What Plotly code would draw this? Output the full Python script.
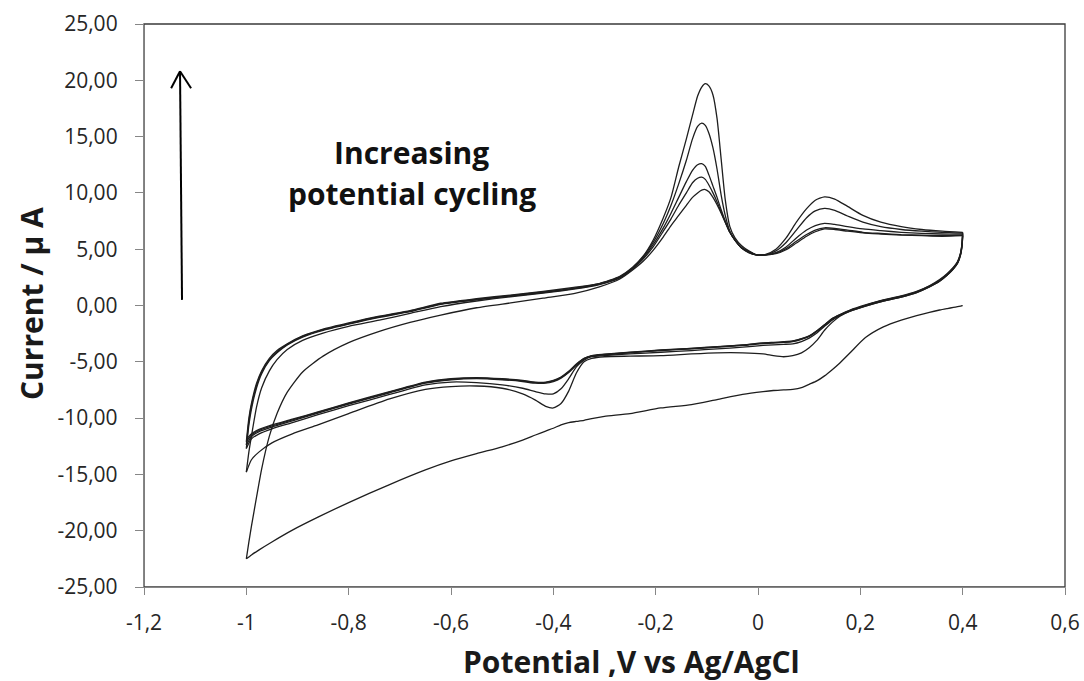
import plotly.graph_objects as go

# ---- potential grids (V vs Ag/AgCl) ----
ANODIC_X = [-1.0, -0.995, -0.99, -0.98, -0.97, -0.955, -0.94, -0.92, -0.89, -0.85,
            -0.80, -0.74, -0.68, -0.62, -0.55, -0.48, -0.42, -0.36, -0.31, -0.27,
            -0.245, -0.225, -0.205, -0.185, -0.17, -0.155, -0.14, -0.128, -0.118, -0.11,
            -0.103, -0.096, -0.088, -0.08, -0.072, -0.064, -0.055, -0.045, -0.032, -0.018,
            -0.003, 0.015, 0.035, 0.055, 0.075, 0.095, 0.112, 0.13, 0.15, 0.175,
            0.205, 0.24, 0.28, 0.32, 0.36, 0.40]

CATHODIC_X = [0.40, 0.399, 0.396, 0.39, 0.382, 0.37, 0.355, 0.335, 0.31, 0.28,
              0.245, 0.21, 0.18, 0.16, 0.145, 0.13, 0.115, 0.10, 0.085, 0.068,
              0.05, 0.03, 0.01, -0.03, -0.08, -0.13, -0.19, -0.25, -0.30, -0.325,
              -0.34, -0.355, -0.37, -0.385, -0.40, -0.415, -0.435, -0.46, -0.50, -0.55,
              -0.60, -0.65, -0.72, -0.80, -0.86, -0.91, -0.95, -0.975, -0.99, -1.0]

# ---- current (uA), anodic sweeps ----
anodic_1 = [-22.5, -21.0, -19.6, -17.0, -14.5, -11.6, -9.6, -7.7, -5.9, -4.5,
            -3.3, -2.3, -1.5, -0.85, -0.2, 0.25, 0.65, 1.05, 1.65, 2.35,
            3.15, 3.9, 4.9, 6.1, 7.1, 8.0, 8.9, 9.6, 10.0, 10.25,
            10.3, 10.1, 9.6, 8.95, 8.2, 7.4, 6.5, 5.8, 5.1, 4.7,
            4.5, 4.5, 4.6, 4.95, 5.55, 6.15, 6.55, 6.8, 6.75, 6.6,
            6.45, 6.35, 6.25, 6.2, 6.15, 6.2]
anodic_2 = [-14.8, -13.0, -11.6, -9.0, -7.3, -5.8, -4.8, -3.9, -3.1, -2.45,
            -1.85, -1.3, -0.7, -0.1, 0.4, 0.8, 1.1, 1.45, 1.85, 2.45,
            3.25, 4.1, 5.2, 6.6, 7.7, 8.9, 10.0, 10.9, 11.3, 11.4,
            11.2, 10.7, 10.0, 9.2, 8.3, 7.4, 6.5, 5.8, 5.1, 4.7,
            4.5, 4.5, 4.65, 5.05, 5.7, 6.3, 6.7, 6.9, 6.85, 6.7,
            6.5, 6.4, 6.3, 6.25, 6.2, 6.25]
anodic_3 = [-12.7, -10.6, -9.2, -7.3, -6.05, -4.9, -4.2, -3.5, -2.8, -2.2,
            -1.65, -1.05, -0.55, 0.1, 0.5, 0.85, 1.15, 1.5, 1.9, 2.5,
            3.3, 4.2, 5.4, 6.9, 8.2, 9.6, 11.0, 12.0, 12.5, 12.6,
            12.35, 11.6, 10.6, 9.6, 8.5, 7.5, 6.5, 5.8, 5.1, 4.75,
            4.5, 4.5, 4.7, 5.2, 6.0, 6.7, 7.1, 7.3, 7.2, 7.0,
            6.8, 6.65, 6.5, 6.4, 6.35, 6.35]
anodic_4 = [-12.4, -10.3, -8.9, -7.1, -5.9, -4.8, -4.1, -3.45, -2.75, -2.15,
            -1.6, -1.0, -0.5, 0.15, 0.55, 0.9, 1.2, 1.55, 1.95, 2.55,
            3.35, 4.3, 5.6, 7.3, 8.9, 10.8, 12.9, 14.8, 15.9, 16.2,
            16.0, 15.3, 14.0, 12.1, 9.8, 8.0, 6.6, 5.8, 5.15, 4.8,
            4.5, 4.5, 4.85, 5.6, 6.7, 7.8, 8.4, 8.62, 8.45, 7.95,
            7.4, 7.0, 6.75, 6.6, 6.5, 6.45]
anodic_5 = [-12.1, -10.0, -8.7, -6.9, -5.8, -4.7, -4.0, -3.4, -2.7, -2.1,
            -1.55, -0.95, -0.45, 0.2, 0.6, 0.95, 1.25, 1.6, 1.95, 2.6,
            3.4, 4.35, 5.8, 7.8, 9.6, 12.3, 14.8, 16.9, 18.6, 19.4,
            19.7, 19.5, 18.7, 16.6, 13.0, 9.4, 7.0, 6.0, 5.3, 4.85,
            4.5, 4.55, 5.0, 6.0, 7.4, 8.6, 9.35, 9.65, 9.45, 8.8,
            8.0, 7.4, 7.0, 6.75, 6.6, 6.5]

# ---- current (uA), cathodic sweeps ----
cathodic_1 = [0.0, -0.02, -0.05, -0.1, -0.17, -0.27, -0.4, -0.6, -0.9, -1.3,
              -1.9, -2.85, -4.2, -5.1, -5.7, -6.25, -6.7, -7.0, -7.3, -7.45,
              -7.5, -7.55, -7.65, -7.9, -8.35, -8.8, -9.1, -9.6, -9.85, -10.05,
              -10.2, -10.3, -10.4, -10.6, -10.9, -11.15, -11.5, -11.95, -12.55, -13.15,
              -13.8, -14.6, -15.9, -17.5, -18.8, -19.95, -21.0, -21.7, -22.15, -22.5]
cathodic_2 = [6.2, 5.4, 4.5, 3.75, 3.25, 2.7, 2.15, 1.65, 1.15, 0.75,
              0.4, -0.05, -0.5, -0.95, -1.5, -2.2, -3.1, -3.75, -4.2, -4.45,
              -4.55, -4.45, -4.3, -4.2, -4.2, -4.3, -4.45, -4.5, -4.55, -4.7,
              -5.0, -6.0, -7.6, -8.7, -9.1, -8.95, -8.4, -7.85, -7.35, -7.15,
              -7.2, -7.45, -8.3, -9.6, -10.6, -11.4, -12.2, -13.0, -13.7, -14.8]
cathodic_3 = [6.25, 5.45, 4.55, 3.75, 3.25, 2.7, 2.15, 1.65, 1.15, 0.75,
              0.4, -0.05, -0.5, -0.9, -1.3, -1.85, -2.45, -2.9, -3.2, -3.4,
              -3.45, -3.5, -3.55, -3.7, -3.85, -4.0, -4.15, -4.3, -4.45, -4.55,
              -4.85, -5.45, -6.5, -7.4, -7.85, -7.85, -7.65, -7.35, -7.05, -6.85,
              -6.8, -7.05, -7.9, -8.9, -9.7, -10.4, -10.95, -11.4, -11.85, -12.7]
cathodic_4 = [6.35, 5.5, 4.6, 3.8, 3.3, 2.75, 2.2, 1.7, 1.2, 0.8,
              0.45, 0.0, -0.45, -0.85, -1.2, -1.75, -2.3, -2.75, -3.0, -3.2,
              -3.28, -3.33, -3.38, -3.55, -3.7, -3.85, -4.0, -4.2, -4.38, -4.5,
              -4.75, -5.3, -5.95, -6.45, -6.75, -6.9, -6.9, -6.75, -6.6, -6.5,
              -6.6, -6.9, -7.75, -8.75, -9.55, -10.25, -10.8, -11.2, -11.65, -12.4]
cathodic_5 = [6.45, 5.6, 4.65, 3.85, 3.35, 2.8, 2.25, 1.72, 1.22, 0.82,
              0.47, 0.02, -0.43, -0.83, -1.18, -1.72, -2.27, -2.72, -2.97, -3.17,
              -3.25, -3.3, -3.35, -3.52, -3.67, -3.82, -3.97, -4.17, -4.35, -4.47,
              -4.72, -5.25, -5.9, -6.4, -6.7, -6.85, -6.85, -6.7, -6.55, -6.45,
              -6.55, -6.85, -7.7, -8.7, -9.5, -10.15, -10.7, -11.1, -11.5, -12.1]
cathodic_6 = [6.5, 5.65, 4.7, 3.9, 3.4, 2.85, 2.3, 1.75, 1.25, 0.85,
              0.5, 0.05, -0.4, -0.8, -1.15, -1.7, -2.25, -2.7, -2.95, -3.15,
              -3.22, -3.27, -3.32, -3.5, -3.65, -3.8, -3.95, -4.15, -4.33, -4.45,
              -4.7, -5.2, -5.85, -6.35, -6.65, -6.8, -6.8, -6.65, -6.5, -6.4,
              -6.5, -6.8, -7.65, -8.65, -9.45, -10.1, -10.6, -11.0, -11.4, -11.9]

# sweep order: cathodic 1, anodic 1, cathodic 2, anodic 2, ...
sweeps = [
    (CATHODIC_X, cathodic_1), (ANODIC_X, anodic_1),
    (CATHODIC_X, cathodic_2), (ANODIC_X, anodic_2),
    (CATHODIC_X, cathodic_3), (ANODIC_X, anodic_3),
    (CATHODIC_X, cathodic_4), (ANODIC_X, anodic_4),
    (CATHODIC_X, cathodic_5), (ANODIC_X, anodic_5),
    (CATHODIC_X, cathodic_6),
]

# ---- axis ticks ----
X_TICKS = [-1.2, -1.0, -0.8, -0.6, -0.4, -0.2, 0.0, 0.2, 0.4, 0.6]
X_LABELS = ["-1,2", "-1", "-0,8", "-0,6", "-0,4", "-0,2", "0", "0,2", "0,4", "0,6"]
Y_TICKS = [-25, -20, -15, -10, -5, 0, 5, 10, 15, 20, 25]
Y_LABELS = ["-25,00", "-20,00", "-15,00", "-10,00", "-5,00", "0,00",
            "5,00", "10,00", "15,00", "20,00", "25,00"]

W, H = 1084, 681
ML, MR, MT, MB = 144, 19, 24, 94
PW, PH = W - ML - MR, H - MT - MB


def px_to_paper(px, py):
    return (px - ML) / PW, (H - MB - py) / PH


fig = go.Figure()
for xs, ys in sweeps:
    fig.add_trace(go.Scatter(
        x=xs, y=ys, mode="lines",
        line=dict(color="#1e1e1e", width=1.3, shape="spline", smoothing=0.6),
        showlegend=False, hoverinfo="skip",
    ))

FONT = "Open Sans, Arial, sans-serif"
tick_font = dict(family=FONT, size=21, color="#262626")
title_font = dict(family=FONT, size=30, color="#1a1a1a")

fig.update_xaxes(
    range=[-1.2, 0.6], tickvals=X_TICKS, ticktext=X_LABELS, automargin=False,
    showgrid=False, zeroline=False, showline=True, linecolor="#868686", linewidth=1.3,
    ticks="outside", ticklen=7, tickcolor="#868686", tickwidth=1.3,
    tickfont=tick_font, ticklabelstandoff=10,
)
fig.update_yaxes(
    range=[-25, 25], tickvals=Y_TICKS, ticktext=Y_LABELS, automargin=False,
    showgrid=False, zeroline=False, showline=True, linecolor="#868686", linewidth=1.3,
    ticks="outside", ticklen=8, tickcolor="#868686", tickwidth=1.3,
    tickfont=tick_font, ticklabelstandoff=13,
)

# plot-area frame
fig.add_shape(type="rect", xref="paper", yref="paper", x0=0, y0=0, x1=1, y1=1,
              line=dict(color="#3a3a3a", width=1.3), layer="below")

# upward arrow with open head
arrow_style = dict(color="black", width=2)
fig.add_shape(type="line", x0=-1.1257, y0=0.5, x1=-1.1296, y1=20.8, line=arrow_style)
fig.add_shape(type="line", x0=-1.147, y0=19.3, x1=-1.1296, y1=20.8, line=arrow_style)
fig.add_shape(type="line", x0=-1.108, y0=19.3, x1=-1.1296, y1=20.8, line=arrow_style)

# axis titles
xt = px_to_paper(631, 661)
yt = px_to_paper(31, 304)
fig.add_annotation(x=xt[0], y=xt[1], xref="paper", yref="paper",
                   text="<b>Potential ,V vs Ag/AgCl</b>", showarrow=False,
                   font=title_font, xanchor="center", yanchor="middle")
fig.add_annotation(x=yt[0], y=yt[1], xref="paper", yref="paper",
                   text="<b>Current / µ A</b>", showarrow=False, textangle=-90,
                   font=title_font, xanchor="center", yanchor="middle")

# label beside the arrow
label_font = dict(family=FONT, size=30, color="#111")
l1 = px_to_paper(411.5, 152)
l2 = px_to_paper(411.5, 194)
fig.add_annotation(x=l1[0], y=l1[1], xref="paper", yref="paper",
                   text="<b>Increasing</b>", showarrow=False,
                   font=label_font, xanchor="center", yanchor="middle")
fig.add_annotation(x=l2[0], y=l2[1], xref="paper", yref="paper",
                   text="<b>potential cycling</b>", showarrow=False,
                   font=label_font, xanchor="center", yanchor="middle")

fig.update_layout(
    width=W, height=H,
    margin=dict(l=ML, r=MR, t=MT, b=MB, autoexpand=False),
    paper_bgcolor="white", plot_bgcolor="white",
)

fig.write_html("out.html")
